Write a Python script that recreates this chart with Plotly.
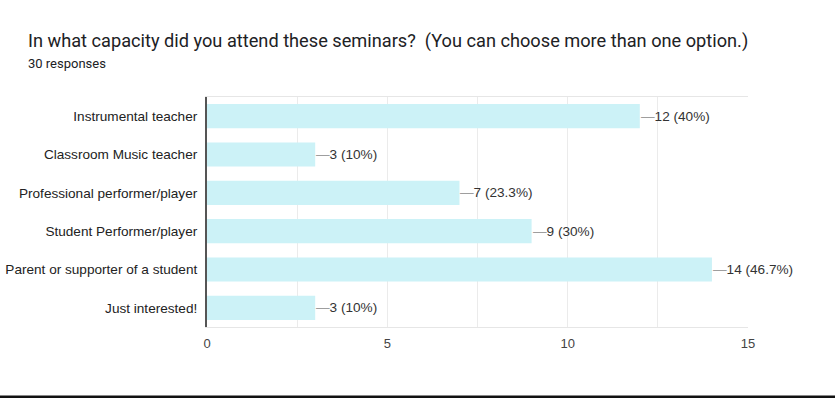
import plotly.graph_objects as go

categories = [
    "Instrumental teacher",
    "Classroom Music teacher",
    "Professional performer/player",
    "Student Performer/player",
    "Parent or supporter of a student",
    "Just interested!",
]
counts = [12, 3, 7, 9, 14, 3]
pct_labels = ["40%", "10%", "23.3%", "30%", "46.7%", "10%"]
x_ticks = [0, 5, 10, 15]

title_text = "In what capacity did you attend these seminars?  (You can choose more than one option.)"
subtitle_text = "30 responses"

W, H = 835, 398
ML, MR, MT, MB = 207, 87, 97, 71


def px_x(px):
    return (px - ML) / (W - ML - MR)


def px_y(py):
    return (H - MB - py) / (H - MT - MB)


fig = go.Figure()
fig.add_trace(go.Bar(
    x=counts, y=categories, orientation="h",
    marker=dict(color="#ccf2f7", line=dict(width=0)),
    width=0.63, hoverinfo="skip",
))

for c, v, p in zip(categories, counts, pct_labels):
    fig.add_annotation(
        x=v, y=c, xref="x", yref="y",
        text=f"<span style='color:#9e9e9e'>—</span>{v} ({p})",
        showarrow=False, xanchor="left", yanchor="middle", xshift=-1,
        font=dict(family="Liberation Sans, Arial", size=13.6, color="#333333"),
    )

fig.add_annotation(
    x=px_x(26), y=px_y(41.5), xref="paper", yref="paper", text=title_text,
    showarrow=False, xanchor="left", yanchor="middle",
    font=dict(family="Roboto", size=18.2, color="#202124"),
)
fig.add_annotation(
    x=px_x(26), y=px_y(64), xref="paper", yref="paper", text=subtitle_text,
    showarrow=False, xanchor="left", yanchor="middle",
    font=dict(family="Roboto", size=13, color="#202124"),
)

# bottom black band of screenshot
fig.add_shape(
    type="rect", xref="paper", yref="paper",
    x0=px_x(0), x1=px_x(W), y0=px_y(398), y1=px_y(395.5),
    fillcolor="#111111", line=dict(width=0), layer="above",
)

fig.update_xaxes(
    range=[0, 15], tickvals=x_ticks, ticktext=[str(t) for t in x_ticks],
    showgrid=True, gridcolor="#ebebeb", gridwidth=1,
    minor=dict(dtick=2.5, tick0=0, showgrid=True, gridcolor="#ebebeb"),
    showline=True, linecolor="#e6e6e6", linewidth=1, mirror=True,
    zeroline=False, ticks="outside", ticklen=4, tickcolor="rgba(0,0,0,0)",
    tickfont=dict(family="Liberation Sans, Arial", size=13, color="#444444"),
    fixedrange=True, automargin=False,
)
fig.update_yaxes(
    autorange="reversed", showgrid=False,
    showline=True, linecolor="#555555", linewidth=2,
    ticks="outside", ticklen=5, tickcolor="rgba(0,0,0,0)",
    tickfont=dict(family="Liberation Sans, Arial", size=13.6, color="#222222"),
    fixedrange=True, automargin=False,
)

fig.update_layout(
    width=W, height=H,
    margin=dict(l=ML, r=MR, t=MT, b=MB, pad=0, autoexpand=False),
    paper_bgcolor="white", plot_bgcolor="white",
    showlegend=False, bargap=0.37,
)

fig.write_html(
    "out.html",
    config={"displayModeBar": False},
    post_script="document.body.style.margin='0';document.body.style.overflow='hidden';",
)
